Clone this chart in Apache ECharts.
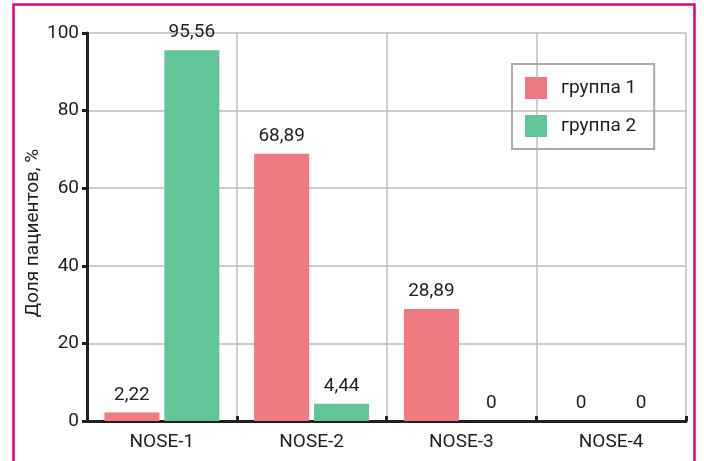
<!DOCTYPE html>
<html><head><meta charset="utf-8">
<script src="https://cdn.jsdelivr.net/npm/echarts@6/dist/echarts.min.js"></script>
<style>html,body{margin:0;padding:0;background:#fff;}#c{width:704px;height:461px;}</style>
</head><body><div id="c"></div>
<script>
const categories = ['NOSE-1', 'NOSE-2', 'NOSE-3', 'NOSE-4'];
const group1 = [2.22, 68.89, 28.89, 0];
const group2 = [95.56, 4.44, 0, 0];
const seriesNames = ['группа 1', 'группа 2'];
const yTicks = [0, 20, 40, 60, 80, 100];

const FONT = '"Roboto", "Liberation Sans", sans-serif';
const DARK = '#231F20';
const GRID = '#BDBDBD';
const fmt = v => String(v.value !== undefined ? v.value : v).replace('.', ',');

const chart = echarts.init(document.getElementById('c'), null, {renderer: 'canvas'});
chart.setOption({
  backgroundColor: '#fff',
  animation: false,
  textStyle: {fontFamily: FONT},
  graphic: [{
    type: 'rect', silent: true, z: 100,
    shape: {x: 13.5, y: 4.5, width: 681, height: 470},
    style: {fill: 'none', stroke: '#E5007E', lineWidth: 2.5}
  }],
  grid: {left: 87, right: 18, top: 33, bottom: 40, containLabel: false},
  legend: {
    orient: 'vertical', left: 512, top: 64,
    padding: [13, 18, 12, 13],
    itemWidth: 22, itemHeight: 22, itemGap: 16,
    borderColor: '#ABABAB', borderWidth: 2,
    icon: 'rect',
    textStyle: {fontFamily: FONT, fontSize: 19, color: DARK, padding: [0, 0, 0, 9]},
    data: seriesNames
  },
  xAxis: {
    type: 'category', data: categories,
    axisLine: {lineStyle: {color: DARK, width: 3}},
    axisTick: {show: true, inside: true, length: 5, lineStyle: {color: DARK, width: 3}},
    axisLabel: {fontFamily: FONT, fontSize: 19, color: DARK, margin: 12},
    splitLine: {show: true, lineStyle: {color: GRID, width: 1.5}}
  },
  yAxis: {
    type: 'value', min: yTicks[0], max: yTicks[yTicks.length - 1], interval: 20,
    name: 'Доля пациентов, %', nameLocation: 'middle', nameGap: 44, nameMoveOverlap: false,
    nameTextStyle: {fontFamily: FONT, fontSize: 19, color: DARK, padding: [0, 12, 0, 0]},
    axisLine: {show: true, lineStyle: {color: DARK, width: 3}},
    axisTick: {show: true, length: 5, lineStyle: {color: DARK, width: 3}},
    axisLabel: {fontFamily: FONT, fontSize: 19, color: DARK, margin: 8},
    splitLine: {show: true, lineStyle: {color: GRID, width: 1.5}}
  },
  series: [
    {name: seriesNames[0], type: 'bar', data: group1, barWidth: 55, barGap: '9%',
     itemStyle: {color: '#F07A82'},
     label: {show: true, position: 'top', distance: 8, fontFamily: FONT, fontSize: 19, color: DARK, formatter: fmt}},
    {name: seriesNames[1], type: 'bar', data: group2, barWidth: 55, barGap: '9%',
     itemStyle: {color: '#62C497'},
     label: {show: true, position: 'top', distance: 8, fontFamily: FONT, fontSize: 19, color: DARK, formatter: fmt}}
  ]
});
</script></body></html>
